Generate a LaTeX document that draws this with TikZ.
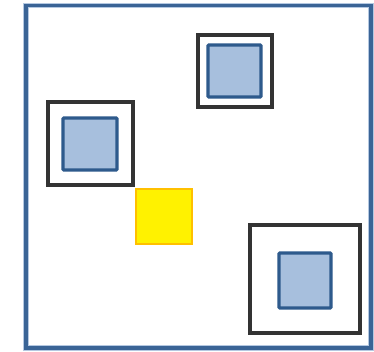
\documentclass[tikz,border=0pt]{standalone}
\definecolor{frameblue}{HTML}{3A6496}
\definecolor{framelight}{HTML}{B4C8E1}
\definecolor{boxfill}{HTML}{A7BFDD}
\definecolor{boxline}{HTML}{2E5A8C}
\definecolor{darkline}{HTML}{333333}
\definecolor{goldline}{HTML}{FFC000}
\begin{document}
\begin{tikzpicture}[x=0.75pt,y=-0.75pt,
  outerframe/.style={draw=frameblue,line width=2.6pt},
  outerhalo/.style={draw=framelight,line width=4.2pt},
  holder/.style={draw=darkline,line width=3pt},
  bluebox/.style={draw=boxline,fill=boxfill,line width=2.4pt,rounded corners=0.6pt},
  yellowbox/.style={draw=goldline,fill=yellow,line width=1.6pt}]
\useasboundingbox (0,0) rectangle (374,351);
\fill[white] (0,0) rectangle (374,351);
% outer frame
\draw[outerhalo] (26,5.5) rectangle (371,348);
\draw[outerframe] (26,5.5) rectangle (371,348);
% top holder
\draw[holder] (198,35) rectangle (272,107);
\draw[bluebox] (208,45) rectangle (261,97);
% left holder
\draw[holder] (48,102) rectangle (133,185);
\draw[bluebox] (63,118) rectangle (117,170);
% yellow square
\draw[yellowbox] (136,189) rectangle (192,244);
% bottom-right holder
\draw[holder] (250,225) rectangle (360,333);
\draw[bluebox] (279,253) rectangle (331,308);
\end{tikzpicture}
\end{document}
